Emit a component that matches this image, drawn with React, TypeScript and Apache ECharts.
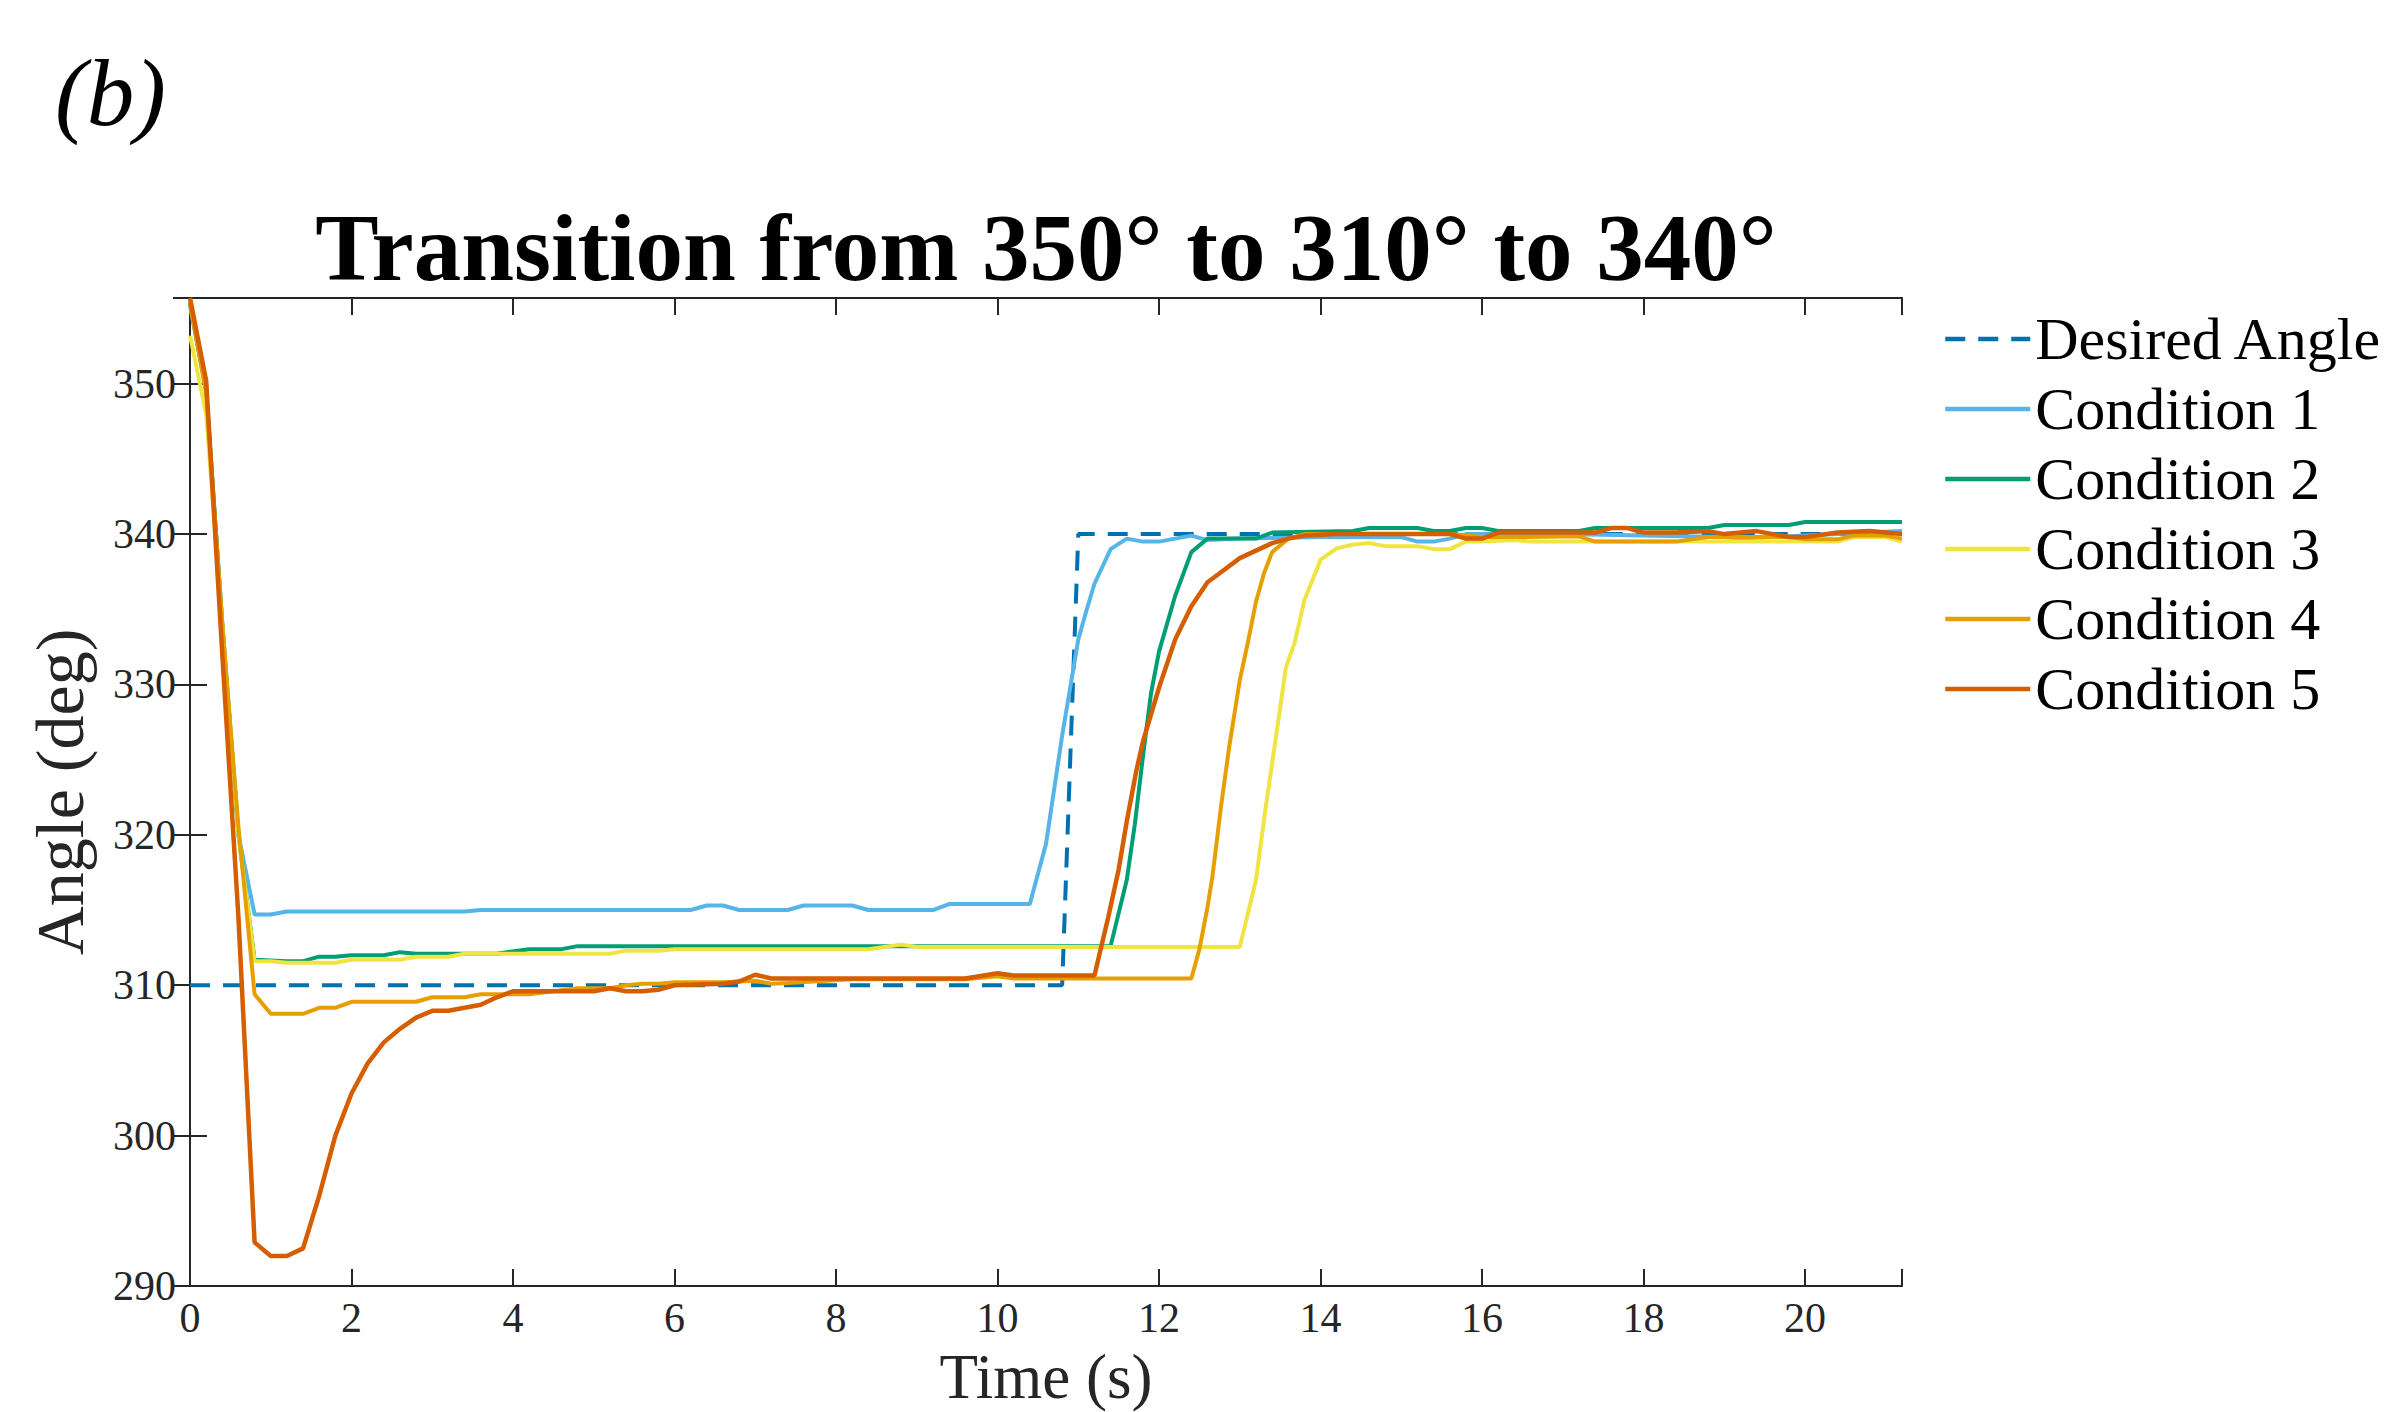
import React, { useEffect, useRef } from "react";
import * as echarts from "echarts";

// ---- Data (time in s, angle in deg) ----
const seriesNames = ["Desired Angle", "Condition 1", "Condition 2", "Condition 3", "Condition 4", "Condition 5"];
const seriesColors = ["#0072B2", "#56B4E9", "#009E73", "#F0E442", "#E69F00", "#D55E00"];

const desiredAngle = [[0, 310], [10.8, 310], [11.0, 340], [21.2, 340]];

const condition1 = [
  [0, 355.2], [0.2, 349.5], [0.4, 334], [0.6, 320], [0.8, 314.7], [1.0, 314.7], [1.2, 314.9], [3.4, 314.9],
  [3.6, 315.0], [6.2, 315.0], [6.4, 315.3], [6.6, 315.3], [6.8, 315.0], [7.4, 315.0], [7.6, 315.3], [8.2, 315.3],
  [8.4, 315.0], [9.2, 315.0], [9.4, 315.4], [10.4, 315.4], [10.6, 319.4], [10.7, 323.0], [10.8, 326.6], [10.9, 329.8],
  [11.0, 333.0], [11.1, 334.9], [11.2, 336.7], [11.4, 339.0], [11.6, 339.7], [11.8, 339.5], [12.0, 339.5], [12.2, 339.7],
  [12.4, 339.9], [12.6, 339.6], [13.0, 339.7], [14.0, 339.8], [15.0, 339.8], [15.2, 339.5], [15.4, 339.5], [15.6, 339.7],
  [15.8, 340.0], [17.0, 340.0], [19.0, 339.8], [19.2, 339.7], [19.6, 339.8], [21.2, 340.2],
];

const condition2 = [
  [0, 355.4], [0.2, 349.6], [0.4, 334], [0.6, 320], [0.8, 311.7], [1.2, 311.6], [1.4, 311.6], [1.6, 311.9],
  [1.8, 311.9], [2.0, 312.0], [2.4, 312.0], [2.6, 312.2], [2.8, 312.1], [3.8, 312.1], [4.2, 312.4], [4.6, 312.4],
  [4.8, 312.6], [11.4, 312.6], [11.6, 317.0], [11.7, 320.7], [11.8, 325.2], [11.9, 329.4], [12.0, 332.2], [12.2, 335.9],
  [12.4, 338.8], [12.6, 339.7], [13.2, 339.7], [13.4, 340.1], [14.4, 340.2], [14.6, 340.4], [15.2, 340.4], [15.4, 340.2],
  [15.6, 340.2], [15.8, 340.4], [16.0, 340.4], [16.2, 340.2], [17.2, 340.2], [17.4, 340.4], [18.8, 340.4], [19.0, 340.6],
  [19.8, 340.6], [20.0, 340.8], [21.2, 340.8],
];

const condition3 = [
  [0, 353.2], [0.2, 348.0], [0.4, 334], [0.6, 320], [0.8, 311.6], [1.0, 311.6], [1.2, 311.5], [1.8, 311.5],
  [2.0, 311.7], [2.6, 311.7], [2.8, 311.9], [3.2, 311.9], [3.4, 312.1], [5.2, 312.1], [5.4, 312.3], [5.8, 312.3],
  [6.0, 312.4], [8.4, 312.4], [8.8, 312.7], [9.0, 312.55], [13.0, 312.55], [13.2, 317.0], [13.32, 321.8], [13.45, 326.6],
  [13.57, 331.1], [13.68, 332.8], [13.8, 335.6], [14.0, 338.3], [14.2, 339.05], [14.4, 339.3], [14.6, 339.4], [14.8, 339.2],
  [15.2, 339.2], [15.4, 339.0], [15.6, 339.0], [15.8, 339.5], [16.0, 339.5], [16.4, 339.6], [16.6, 339.5], [20.4, 339.5],
  [20.6, 339.8], [21.0, 339.8], [21.2, 339.5],
];

const condition4 = [
  [0, 355.3], [0.2, 349.4], [0.4, 334], [0.6, 320.5], [0.8, 309.4], [1.0, 308.1], [1.4, 308.1], [1.6, 308.5],
  [1.8, 308.5], [2.0, 308.9], [2.8, 308.9], [3.0, 309.2], [3.4, 309.2], [3.6, 309.4], [4.2, 309.4], [4.8, 309.8],
  [5.2, 309.8], [5.4, 310.0], [5.6, 310.1], [5.8, 310.1], [6.0, 310.2], [6.6, 310.2], [7.0, 310.3], [7.2, 310.1],
  [7.4, 310.15], [8.2, 310.4], [9.6, 310.4], [10.0, 310.6], [10.2, 310.45], [12.4, 310.45], [12.5, 312.4], [12.6, 315.2],
  [12.66, 317.2], [12.77, 322.0], [12.87, 325.9], [13.0, 330.3], [13.1, 332.8], [13.2, 335.5], [13.3, 337.4], [13.4, 338.8],
  [13.6, 339.7], [13.8, 340.0], [15.6, 340.0], [15.8, 339.9], [16.0, 339.8], [16.4, 339.8], [17.2, 339.85], [17.4, 339.5],
  [18.4, 339.5], [18.8, 339.8], [19.8, 339.8], [20.0, 339.65], [20.4, 339.65], [20.6, 339.9], [21.0, 339.9], [21.2, 339.7],
];

const condition5 = [
  [0, 355.7], [0.2, 350.2], [0.4, 332], [0.6, 314.5], [0.8, 292.9], [1.0, 292.0], [1.2, 292.0], [1.4, 292.5],
  [1.6, 296.0], [1.8, 300.0], [2.0, 302.8], [2.2, 304.8], [2.4, 306.2], [2.6, 307.1], [2.8, 307.85], [3.0, 308.3],
  [3.2, 308.3], [3.4, 308.5], [3.6, 308.7], [3.8, 309.2], [4.0, 309.6], [5.0, 309.6], [5.2, 309.8], [5.4, 309.6],
  [5.6, 309.6], [5.8, 309.7], [6.0, 310.0], [6.6, 310.1], [6.8, 310.25], [7.0, 310.7], [7.2, 310.45], [9.6, 310.45],
  [10.0, 310.8], [10.2, 310.65], [11.2, 310.65], [11.37, 314.5], [11.5, 317.7], [11.6, 320.9], [11.72, 324.3], [11.8, 326.2],
  [12.0, 329.8], [12.2, 333.0], [12.4, 335.2], [12.6, 336.8], [12.8, 337.6], [13.0, 338.4], [13.2, 338.9], [13.4, 339.4],
  [13.6, 339.7], [13.8, 339.9], [14.2, 340.0], [15.6, 340.0], [15.8, 339.7], [16.0, 339.7], [16.2, 340.1], [17.4, 340.1],
  [17.6, 340.4], [17.8, 340.4], [18.0, 340.1], [18.4, 340.1], [18.8, 340.2], [19.0, 340.0], [19.4, 340.2], [19.8, 339.8],
  [20.0, 339.8], [20.4, 340.1], [20.8, 340.2], [21.2, 340.0],
];

const allData = [desiredAngle, condition1, condition2, condition3, condition4, condition5];

const xMin = 0;
const xMax = 21.2;
const xInterval = 2;
const yMin = 290;
const yMax = 355.7;
const yInterval = 10;

const titleText = "Transition from 350° to 310° to 340°";
const panelLabel = "(b)";
const xName = "Time (s)";
const yName = "Angle (deg)";

const FONT = "'Liberation Serif', 'DejaVu Serif', serif";
const AXIS_COLOR = "#262626";

export default function App() {
  const ref = useRef<HTMLDivElement>(null);

  useEffect(() => {
    if (!ref.current) return;
    const chart = echarts.init(ref.current, null, { renderer: "svg" });

    const grid = { left: 190, top: 298, width: 1712, height: 988 };

    const axisLineStyle = { show: true, lineStyle: { color: AXIS_COLOR, width: 2 } };
    const tickStyle = { show: true, inside: true, length: 17, lineStyle: { color: AXIS_COLOR, width: 2 } };

    const xLabelFmt = (v: number) => (Math.abs(v % xInterval) < 1e-9 ? String(v) : "");
    const yLabelFmt = (v: number) => (Math.abs(v % yInterval) < 1e-9 ? String(v) : "");

    const series = allData.map((d, i) => ({
      name: seriesNames[i],
      type: "line",
      data: d,
      xAxisIndex: 0,
      yAxisIndex: 0,
      symbol: "none",
      showSymbol: false,
      clip: true,
      z: 2 + i,
      lineStyle: {
        color: seriesColors[i],
        width: i === 5 ? 4.5 : 4,
        type: i === 0 ? [20, 13] : "solid",
      },
      itemStyle: { color: seriesColors[i] },
    }));

    const option: any = {
      animation: false,
      backgroundColor: "#ffffff",
      title: {
        text: titleText,
        left: 1046,
        top: 200,
        textAlign: "center",
        padding: 0,
        textStyle: { fontFamily: FONT, fontWeight: "bold", fontSize: 95, color: "#000000" },
      },
      graphic: [
        {
          type: "text",
          left: 55,
          top: 45,
          style: {
            text: panelLabel,
            font: `italic 95px ${FONT}`,
            fill: "#000000",
          },
        },
      ],
      legend: {
        data: seriesNames,
        orient: "vertical",
        left: 1943,
        top: 309,
        padding: 0,
        itemWidth: 85,
        itemHeight: 20,
        itemGap: 10,
        selectedMode: false,
        itemStyle: { opacity: 0, color: "transparent", borderWidth: 0 },
        lineStyle: { width: 4.5 },
        textStyle: { fontFamily: FONT, fontSize: 60, color: "#000000", lineHeight: 60 },
      },
      grid: { ...grid, containLabel: false, outerBoundsMode: "none" },
      xAxis: [
        {
          type: "value",
          min: xMin,
          max: xMax,
          interval: xInterval,
          position: "bottom",
          name: xName,
          nameLocation: "middle",
          nameGap: 60,
          nameMoveOverlap: false,
          nameTextStyle: { fontFamily: FONT, fontSize: 63, color: AXIS_COLOR, lineHeight: 62 },
          axisLine: axisLineStyle,
          axisTick: tickStyle,
          splitLine: { show: false },
          axisLabel: { formatter: xLabelFmt, margin: 10, fontFamily: FONT, fontSize: 42, color: AXIS_COLOR, lineHeight: 44 },
        },
        {
          type: "value",
          min: xMin,
          max: xMax,
          interval: xInterval,
          position: "top",
          axisLine: axisLineStyle,
          axisTick: tickStyle,
          splitLine: { show: false },
          axisLabel: { show: false },
        },
      ],
      yAxis: [
        {
          type: "value",
          min: yMin,
          max: yMax,
          interval: yInterval,
          position: "left",
          name: yName,
          nameLocation: "middle",
          nameRotate: 90,
          nameGap: 96,
          nameMoveOverlap: false,
          nameTextStyle: { fontFamily: FONT, fontSize: 68, color: AXIS_COLOR },
          axisLine: axisLineStyle,
          axisTick: tickStyle,
          splitLine: { show: false },
          axisLabel: { formatter: yLabelFmt, margin: 14, fontFamily: FONT, fontSize: 42, color: AXIS_COLOR },
        },
        {
          type: "value",
          min: yMin,
          max: yMax,
          interval: yInterval,
          position: "right",
          axisLine: axisLineStyle,
          axisTick: tickStyle,
          splitLine: { show: false },
          axisLabel: { show: false },
        },
      ],
      series,
    };

    chart.setOption(option);
    return () => chart.dispose();
  }, []);

  return (
    <div
      ref={ref}
      style={{ position: "absolute", left: 0, top: 0, width: 2397, height: 1412, background: "#ffffff" }}
    />
  );
}
